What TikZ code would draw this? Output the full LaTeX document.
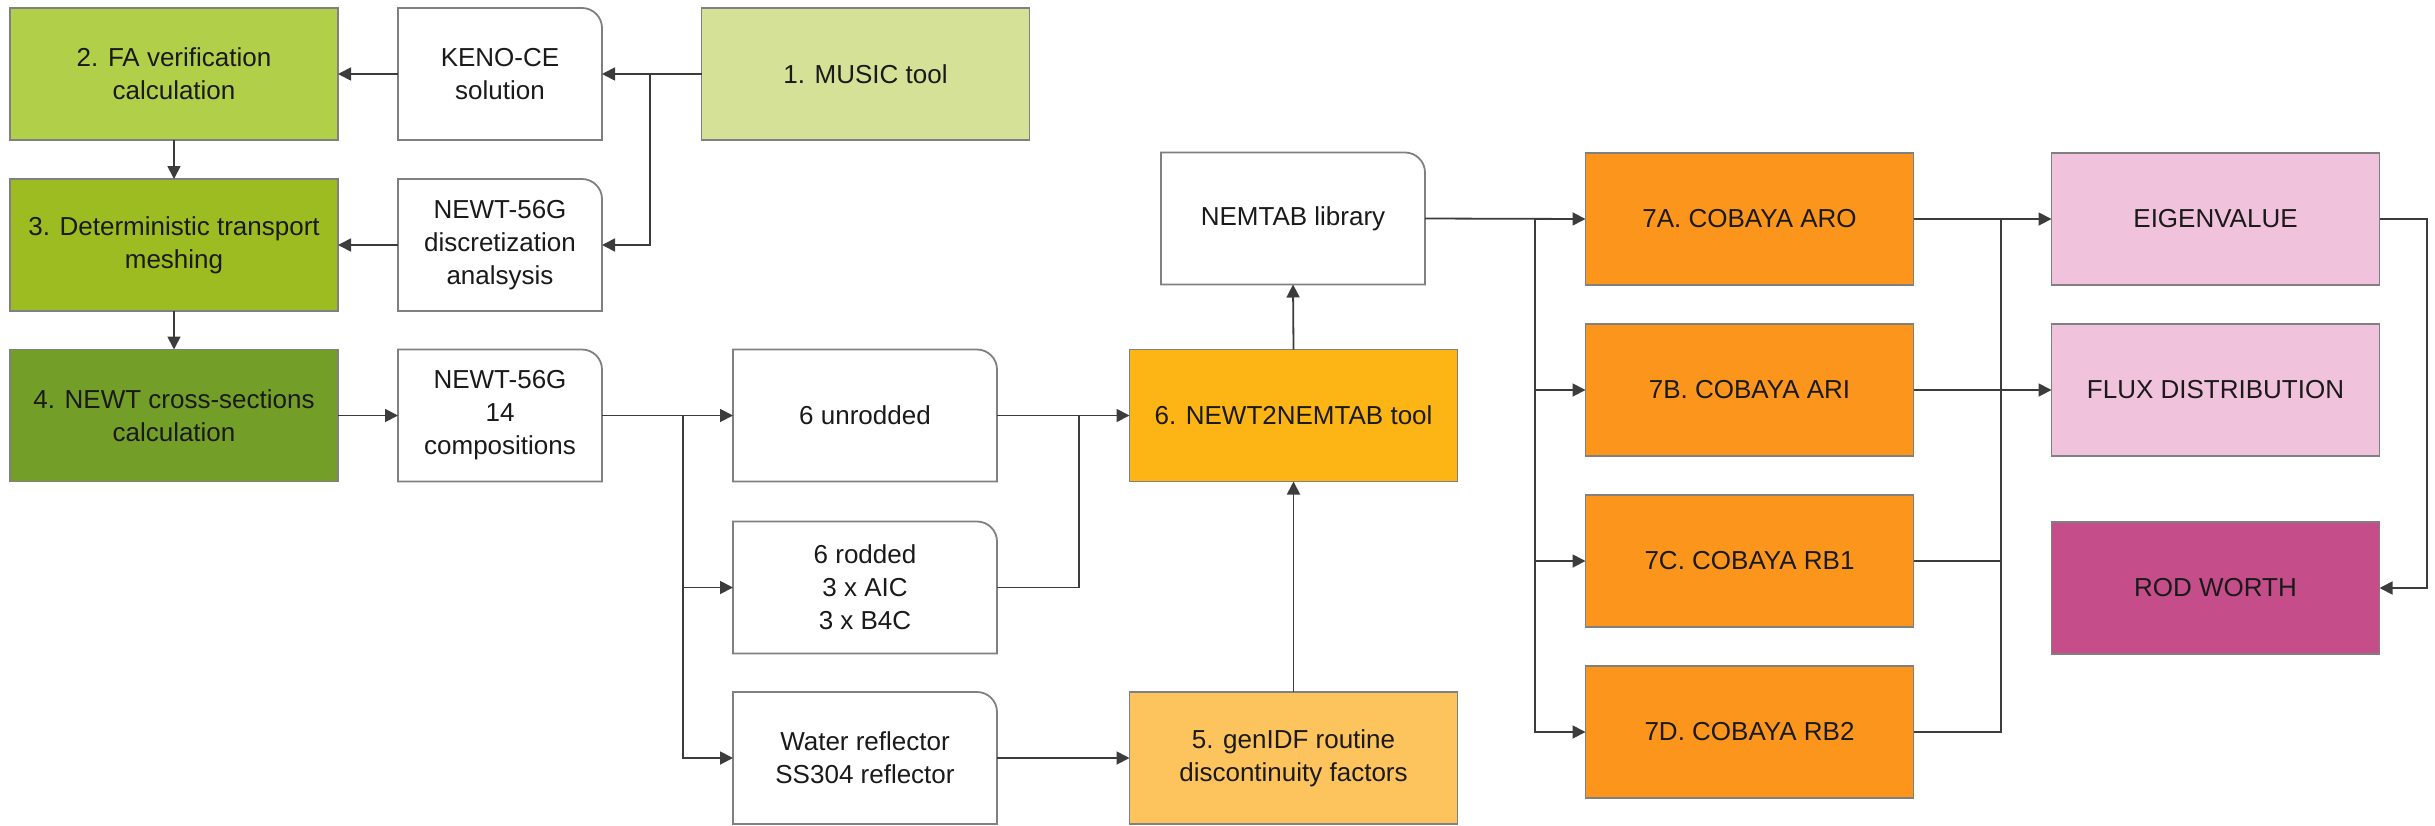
\documentclass[tikz,border=0pt]{standalone}
\usepackage{fontspec}
\setmainfont{Liberation Sans}
\usetikzlibrary{arrows.meta,calc}
\definecolor{cOne}{RGB}{212,225,150}
\definecolor{cTwo}{RGB}{178,207,74}
\definecolor{cThree}{RGB}{156,188,34}
\definecolor{cFour}{RGB}{115,159,40}
\definecolor{cFive}{RGB}{253,195,92}
\definecolor{cSix}{RGB}{253,181,21}
\definecolor{cSeven}{RGB}{251,149,28}
\definecolor{cPink}{RGB}{240,194,220}
\definecolor{cRod}{RGB}{196,77,138}
\definecolor{cBorder}{RGB}{128,128,128}
\definecolor{cLine}{RGB}{60,60,60}
\definecolor{cText}{RGB}{26,26,26}
\newcommand\cardframe[1]{%
  \draw[cardline] (#1.south west) -- (#1.north west) -- ([xshift=-20pt]#1.north east)
    .. controls ([xshift=-9pt]#1.north east) and ([yshift=-9pt]#1.north east) .. ([yshift=-20pt]#1.north east)
    -- (#1.south east) -- cycle;}
\begin{document}
\begin{tikzpicture}[x=1pt,y=-1pt,
  every node/.style={font=\fontsize{26pt}{33pt}\selectfont, text=cText, align=center, inner sep=0pt, outer sep=0pt},
  big/.style={draw=cBorder, line width=1.8pt, minimum width=328pt, minimum height=132pt},
  card/.style={minimum width=204pt, minimum height=132pt},
  cardw/.style={minimum width=264pt, minimum height=132pt},
  cardline/.style={draw=cBorder, line width=1.8pt, fill=white},
  arr/.style={draw=cLine, line width=1.8pt, -{Triangle[length=13pt,width=13pt]}},
  ln/.style={draw=cLine, line width=1.8pt}]
\useasboundingbox (0,0) rectangle (2435,825);
% junction abscissae
\coordinate (j1) at (650,0);
\coordinate (j2) at (683,0);
\coordinate (j3) at (1079,0);
\coordinate (j4) at (1535,0);
\coordinate (j5) at (2001,0);
\coordinate (j6) at (2427,0);
% green column
\node[big, fill=cTwo] (b2) at (174,74) {2. FA verification\\calculation};
\node[big, fill=cThree] (b3) at (174,245) {3. Deterministic transport\\meshing};
\node[big, fill=cFour] (b4) at (174,415.5) {4. NEWT cross-sections\\calculation};
\node[big, fill=cOne] (b1) at (865.5,74) {1. MUSIC tool};
% white cards
\node[card] (keno) at (500,74) {};
\cardframe{keno}
\node at (keno) {KENO-CE\\solution};
\node[card] (disc) at (500,245) {};
\cardframe{disc}
\node at (disc) {NEWT-56G\\discretization\\analsysis};
\node[card] (comp) at (500,415.5) {};
\cardframe{comp}
\node at (comp) {NEWT-56G\\14\\compositions};
\node[cardw] (unrod) at (865,415.5) {};
\cardframe{unrod}
\node at (unrod) {6 unrodded};
\node[cardw] (rod) at (865,587.5) {};
\cardframe{rod}
\node at (rod) {6 rodded\\3 x AIC\\3 x B4C};
\node[cardw] (water) at (865,758) {};
\cardframe{water}
\node at (water) {Water reflector\\SS304 reflector};
\node[cardw] (nemtab) at (1293,218.5) {};
\cardframe{nemtab}
\node at (nemtab) {NEMTAB library};
% tools
\node[big, fill=cSix] (b6) at (1293.5,415.5) {6. NEWT2NEMTAB tool};
\node[big, fill=cFive] (b5) at (1293.5,758) {5. genIDF routine\\discontinuity factors};
% COBAYA
\node[big, fill=cSeven] (s7a) at (1749.5,219) {7A. COBAYA ARO};
\node[big, fill=cSeven] (s7b) at (1749.5,390) {7B. COBAYA ARI};
\node[big, fill=cSeven] (s7c) at (1749.5,561) {7C. COBAYA RB1};
\node[big, fill=cSeven] (s7d) at (1749.5,732) {7D. COBAYA RB2};
% results
\node[big, fill=cPink] (eig) at (2215.5,219) {EIGENVALUE};
\node[big, fill=cPink] (flux) at (2215.5,390) {FLUX DISTRIBUTION};
\node[big, fill=cRod] (rw) at (2215.5,588) {ROD WORTH};
% connectors
\draw[arr] (b1.west) -- (b1.west -| j1) -- (keno.east);
\draw[arr] (b1.west -| j1) |- (disc.east);
\draw[arr] (keno.west) -- (b2.east);
\draw[arr] (disc.west) -- (b3.east);
\draw[arr] (b2.south) -- (b3.north);
\draw[arr] (b3.south) -- (b4.north);
\draw[arr] (b4.east) -- (comp.west);
\draw[arr] (comp.east) -- (unrod.west);
\draw[arr] (comp.east -| j2) |- (rod.west);
\draw[arr] (comp.east -| j2) |- (water.west);
\draw[arr] (unrod.east) -- (b6.west);
\draw[ln] (rod.east) -| (j3 |- b6.west);
\draw[arr] (water.east) -- (b5.west);
\draw[arr] (b5.north) -- (b6.south);
\draw[arr] (b6.north) -- (nemtab.south);
\draw[arr] (nemtab.east) -- (s7a.west);
\draw[arr] (nemtab.east -| j4) |- (s7b.west);
\draw[arr] (nemtab.east -| j4) |- (s7c.west);
\draw[arr] (nemtab.east -| j4) |- (s7d.west);
\draw[arr] (s7a.east) -- (eig.west);
\draw[arr] (s7b.east) -- (flux.west);
\draw[ln] (s7c.east) -| (j5 |- s7a.east);
\draw[ln] (s7d.east) -| (j5 |- s7a.east);
\draw[arr] (eig.east) -- (eig.east -| j6) |- (rw.east);
\end{tikzpicture}
\end{document}
